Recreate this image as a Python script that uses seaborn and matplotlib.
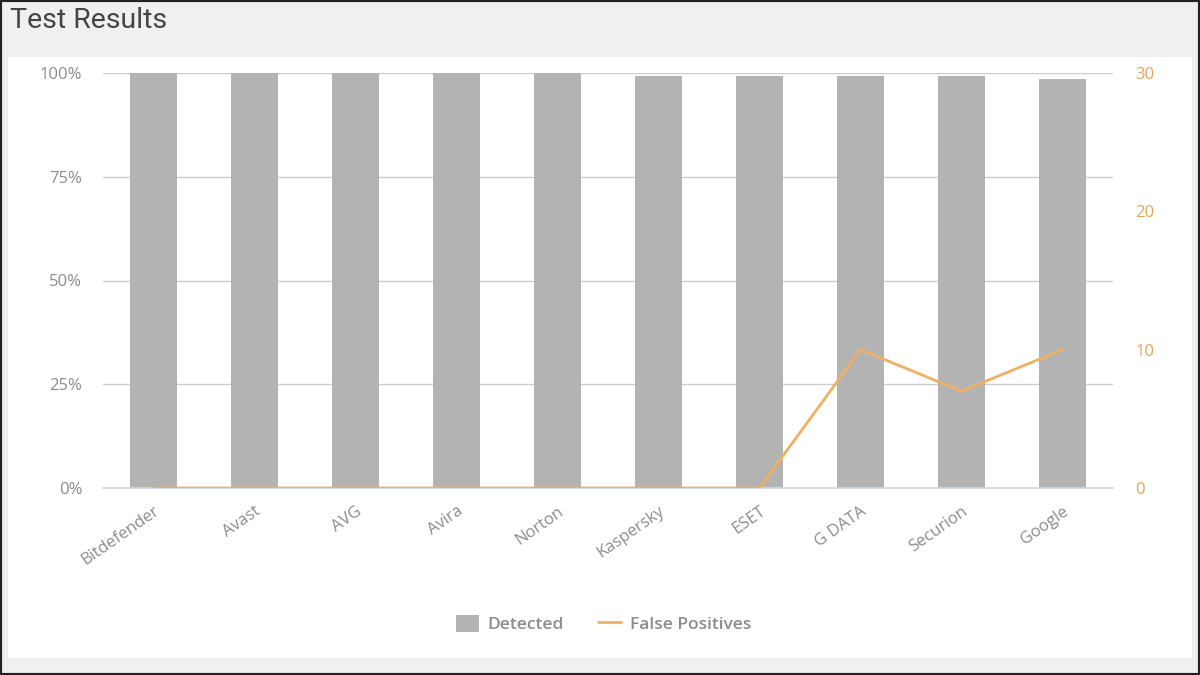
import numpy as np
import pandas as pd
import matplotlib.pyplot as plt
import seaborn as sns
from matplotlib.patches import Patch, Rectangle
from matplotlib.lines import Line2D
from matplotlib.ticker import PercentFormatter

# data
products = ['Bitdefender', 'Avast', 'AVG', 'Avira', 'Norton',
            'Kaspersky', 'ESET', 'G DATA', 'Securion', 'Google']
detected = [100, 100, 100, 100, 100, 99.2, 99.2, 99.2, 99.2, 98.5]
false_positives = [0, 0, 0, 0, 0, 0, 0, 10, 7, 10]

bar_color = '#b3b3b3'
line_color = '#f0b062'
tick_gray = '#8c8c8c'

sns.set_theme(style='white')
plt.rcParams['font.family'] = ['Open Sans', 'DejaVu Sans']

df = pd.DataFrame({'Product': products, 'Detected': detected,
                   'False Positives': false_positives})

fig = plt.figure(figsize=(12, 6.75), dpi=100)
fig.patch.set_facecolor('#f0f0f0')

# white card behind the chart
fig.patches.append(Rectangle((8 / 1200, 17 / 675), 1184 / 1200, 601 / 675,
                             transform=fig.transFigure, facecolor='white',
                             edgecolor='none', zorder=-2))
# thin dark frame round the whole picture
fig.patches.append(Rectangle((0, 0), 1, 1, transform=fig.transFigure,
                             facecolor='none', edgecolor='#222222',
                             linewidth=3, zorder=5))

fig.text(10 / 1200, 1 - 21 / 675, 'Test Results', fontsize=20.5,
         family=['Roboto', 'DejaVu Sans'], color='#444444', va='center')

ax = fig.add_axes([103 / 1200, 187 / 675, 1010 / 1200, 415 / 675])
ax.set_facecolor('none')
sns.barplot(data=df, x='Product', y='Detected', color=bar_color,
            width=0.47, saturation=1, linewidth=0, ax=ax, zorder=2)
ax.set_ylim(0, 100)
ax.set_xlim(-0.5, len(products) - 0.5)
ax.set_yticks([0, 25, 50, 75, 100])
ax.yaxis.set_major_formatter(PercentFormatter(decimals=0))
ax.grid(axis='y', color='#cccccc', linewidth=1, zorder=0)
ax.set_axisbelow(True)
for s in ax.spines.values():
    s.set_visible(False)
# bluish base line like the original x axis
ax.spines['bottom'].set_visible(True)
ax.spines['bottom'].set_color('#ccd6eb')
ax.spines['bottom'].set_linewidth(1.2)
ax.set_xlabel('')
ax.set_ylabel('')
ax.tick_params(axis='y', colors=tick_gray, labelsize=12, length=0, pad=15)
ax.tick_params(axis='x', colors=tick_gray, labelsize=12, length=0, pad=11)
plt.setp(ax.get_xticklabels(), rotation=35, ha='right', rotation_mode='anchor')

ax2 = ax.twinx()
sns.lineplot(data=df, x='Product', y='False Positives', color=line_color,
             linewidth=2, sort=False, ax=ax2, zorder=3)
ax2.set_ylim(0, 30)
ax2.set_yticks([0, 10, 20, 30])
ax2.set_ylabel('')
for s in ax2.spines.values():
    s.set_visible(False)
ax2.tick_params(axis='y', colors=line_color, labelsize=12, length=0, pad=16)
for lab in ax2.get_yticklabels():
    lab.set_color('#e8a455')
ax2.grid(False)

handles = [Patch(facecolor=bar_color, edgecolor='none', label='Detected'),
           Line2D([0], [0], color=line_color, linewidth=2, label='False Positives')]
leg = fig.legend(handles=handles, loc='center', bbox_to_anchor=(0.503, 1 - 624 / 675),
                 ncol=2, frameon=False, fontsize=12.5, handlelength=1.3,
                 handleheight=1.1, columnspacing=2.0, handletextpad=0.5)
for t in leg.get_texts():
    t.set_color(tick_gray)
    t.set_fontweight('semibold')

fig.savefig('out.png', dpi=100, facecolor=fig.get_facecolor())
